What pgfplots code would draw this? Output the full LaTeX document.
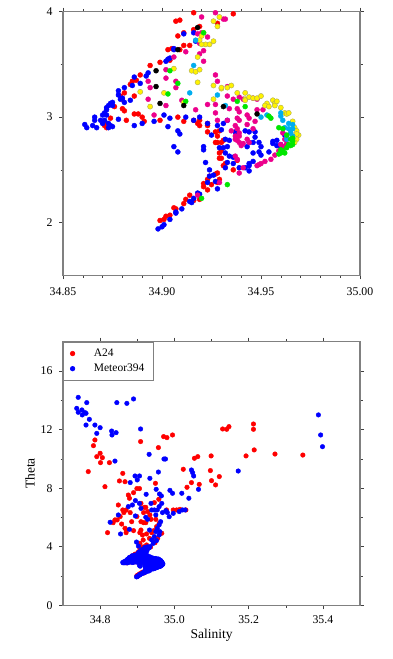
\documentclass[border=0pt]{standalone}
\usepackage{fontspec}
\setmainfont{Liberation Serif}
\usepackage{pgfplots}
\usepackage{pgfplotstable}
\pgfplotsset{compat=1.18}
\definecolor{gmtgreen}{RGB}{0,230,0}
\definecolor{yelline}{RGB}{170,170,90}

\pgfplotstableread{
S T
34.916 3.99
34.936 3.98
34.928 3.89
34.907 3.91
34.909 3.92
34.919 3.86
34.916 3.83
34.908 3.77
34.911 3.80
34.911 3.68
34.914 3.68
34.909 3.64
34.903 3.64
34.905 3.65
34.904 3.54
34.899 3.52
34.894 3.49
34.889 3.40
34.887 3.35
34.885 3.34
34.884 3.31
34.881 3.23
34.879 3.20
34.880 3.17
34.876 3.10
34.880 3.08
34.881 3.06
34.886 3.03
34.888 3.03
34.882 2.97
34.890 3.00
34.891 2.96
34.899 2.97
34.908 3.00
34.911 2.96
34.916 2.97
34.919 2.97
34.919 2.92
34.923 2.92
34.923 2.86
34.927 2.86
34.929 2.87
34.928 2.82
34.928 2.76
34.927 2.76
34.929 2.66
34.930 2.61
34.931 2.54
34.932 2.56
34.938 2.59
34.936 2.50
34.927 2.46
34.928 2.47
34.924 2.44
34.923 2.41
34.929 2.41
34.925 2.36
34.928 2.38
34.921 2.37
34.923 2.31
34.921 2.34
34.919 2.22
34.916 2.21
34.914 2.26
34.912 2.22
34.911 2.18
34.907 2.13
34.906 2.14
34.904 2.07
34.902 2.06
34.901 2.03
34.899 2.02
34.872 2.90
34.872 2.94
34.874 2.99
34.871 2.92
34.930 2.76
34.931 2.78
34.930 2.68
34.929 2.61
34.918 2.94
34.923 2.94
34.886 3.20
}\redtop

\pgfplotstableread{
S T
34.861 2.93
34.862 2.90
34.866 3.00
34.865 2.92
34.867 2.90
34.866 2.97
34.869 2.97
34.870 2.94
34.870 3.02
34.871 3.04
34.872 3.07
34.872 3.09
34.873 3.11
34.874 3.13
34.875 3.14
34.875 3.11
34.873 2.90
34.874 2.92
34.875 2.91
34.873 2.94
34.871 2.97
34.872 3.02
34.878 3.25
34.878 3.21
34.879 3.17
34.880 3.18
34.881 3.28
34.881 3.14
34.884 3.16
34.885 3.30
34.886 3.38
34.889 3.32
34.892 3.39
34.893 3.42
34.886 2.92
34.890 2.94
34.878 2.98
34.896 2.96
34.901 3.02
34.904 2.99
34.903 2.91
34.906 2.72
34.908 2.67
34.908 2.87
34.909 2.84
34.912 3.00
34.916 2.97
34.919 3.00
34.902 3.53
34.903 3.55
34.904 3.56
34.906 3.64
34.906 3.65
34.911 3.79
34.916 3.80
34.917 3.72
34.921 2.72
34.921 2.69
34.922 2.57
34.924 2.50
34.923 2.94
34.928 2.92
34.931 2.94
34.933 2.97
34.930 2.88
34.925 2.83
34.929 2.71
34.931 2.71
34.933 2.72
34.932 2.79
34.934 2.78
34.937 2.86
34.938 2.84
34.932 2.66
34.934 2.63
34.936 2.62
34.936 2.56
34.932 2.52
34.933 2.57
34.939 2.52
34.942 2.52
34.944 2.54
34.944 2.56
34.946 2.58
34.944 2.49
34.942 2.87
34.944 2.86
34.947 2.86
34.947 2.81
34.946 2.76
34.944 2.76
34.949 2.76
34.950 2.72
34.949 2.67
34.950 2.64
34.946 2.66
34.943 2.72
34.954 2.67
34.956 2.75
34.956 2.77
34.958 2.78
34.958 2.73
34.960 2.72
34.960 2.74
34.962 2.83
34.924 2.44
34.926 2.45
34.923 2.38
34.928 2.32
34.927 2.39
34.918 2.28
34.919 2.27
34.916 2.23
34.914 2.20
34.915 2.19
34.910 2.13
34.907 2.10
34.907 2.09
34.904 2.03
34.901 1.98
34.900 1.96
34.898 1.94
}\bluetop

\pgfplotstableread{
S T
34.920 3.95
34.927 3.99
34.931 3.93
34.932 3.93
34.918 3.79
34.920 3.80
34.923 3.76
34.919 3.70
34.921 3.63
34.919 3.60
34.921 3.53
34.912 3.62
34.906 3.57
34.902 3.45
34.902 3.37
34.893 3.34
34.894 3.28
34.907 3.34
34.907 3.28
34.893 3.17
34.896 3.02
34.902 3.11
34.910 3.16
34.917 3.07
34.923 3.12
34.927 3.12
34.927 3.40
34.928 3.34
34.927 3.04
34.934 3.08
34.938 3.08
34.938 2.99
34.939 3.05
34.928 2.97
34.933 2.97
34.937 2.92
34.938 2.89
34.943 3.02
34.944 2.99
34.939 2.97
34.943 2.93
34.947 2.96
34.948 3.07
34.951 3.07
34.946 3.18
34.948 3.17
34.939 3.19
34.941 3.17
34.933 3.20
34.933 3.29
34.936 3.17
34.937 2.82
34.937 2.79
34.938 2.78
34.939 2.76
34.939 2.82
34.940 2.73
34.941 2.75
34.943 2.79
34.939 2.47
34.941 2.52
34.948 2.54
34.949 2.55
34.950 2.56
34.952 2.58
34.955 2.60
34.957 2.64
34.959 2.68
34.961 2.69
34.962 2.72
34.963 2.75
34.960 2.74
34.962 2.79
34.961 2.85
34.944 2.76
34.946 2.89
34.935 2.87
34.939 2.85
34.937 2.63
34.938 2.60
34.918 2.26
34.929 2.38
}\magtop

\pgfplotstableread{
S T
34.929 3.95
34.926 3.91
34.928 3.86
34.921 3.80
34.920 3.77
34.919 3.73
34.922 3.69
34.920 3.69
34.924 3.69
34.926 3.72
34.918 3.57
34.915 3.44
34.917 3.43
34.919 3.45
34.918 3.33
34.926 3.30
34.930 3.27
34.930 3.28
34.933 3.28
34.935 3.30
34.926 3.17
34.938 3.23
34.942 3.23
34.942 3.17
34.944 3.19
34.942 3.16
34.946 3.18
34.948 3.18
34.950 3.20
34.953 3.13
34.952 3.11
34.956 3.16
34.957 3.13
34.957 3.11
34.958 3.15
34.960 3.09
34.962 3.04
34.963 3.03
34.964 3.04
34.966 2.96
34.967 2.90
34.968 2.87
34.969 2.83
34.968 2.79
34.967 2.76
34.966 2.79
34.968 2.84
34.965 2.85
34.954 3.10
34.889 3.24
34.894 3.10
34.901 3.23
34.906 3.46
34.911 3.14
}\yeltop

\pgfplotstableread{
S T
34.917 3.73
34.916 3.49
34.914 3.23
34.928 3.21
34.932 3.11
34.950 3.00
34.953 3.02
34.960 3.01
34.960 3.04
34.961 2.97
34.964 2.94
34.966 2.93
34.966 2.89
34.965 2.85
34.963 2.82
34.966 2.82
34.962 2.90
34.964 2.89
34.963 2.79
}\cyantop

\pgfplotstableread{
S T
34.921 3.80
34.904 3.44
34.908 3.32
34.903 3.22
34.912 3.15
34.938 3.15
34.942 3.10
34.954 3.01
34.955 2.99
34.959 2.90
34.961 2.89
34.963 2.83
34.965 2.79
34.966 2.77
34.964 2.74
34.963 2.71
34.961 2.68
34.960 2.66
34.959 2.65
34.960 2.69
34.966 2.74
34.966 2.80
34.965 2.73
34.962 2.66
34.933 2.36
34.920 2.23
}\greentop

\pgfplotstableread{
S T
34.918 3.85
34.908 3.64
34.897 3.44
34.897 3.29
34.899 3.13
34.911 3.11
34.931 3.10
34.948 3.03
}\blacktop

\pgfplotstableread{
S T
34.782 10.90
34.786 11.29
34.791 10.15
34.800 10.38
34.801 9.74
34.806 10.08
34.768 9.13
34.813 8.10
34.825 9.74
34.820 4.96
34.835 5.64
34.840 5.83
34.849 6.85
34.852 8.49
34.861 9.01
34.867 8.44
34.876 7.53
34.879 7.31
34.890 7.69
34.899 7.97
34.906 7.97
34.909 11.18
34.910 6.96
34.919 6.69
34.923 6.69
34.917 6.33
34.928 6.40
34.934 6.17
34.946 7.01
34.949 8.33
34.958 7.24
34.957 10.77
34.971 11.52
34.980 11.45
34.995 11.63
35.024 9.29
35.034 8.06
35.046 8.38
35.054 10.04
35.063 10.15
35.067 8.26
35.097 9.20
35.099 10.20
35.100 8.51
35.111 8.22
35.121 8.79
35.130 12.04
35.141 12.02
35.147 12.20
35.193 10.20
35.213 12.38
35.213 12.02
35.215 10.61
35.271 10.33
35.346 10.26
34.846 5.83
34.861 6.51
34.864 6.33
34.870 6.51
34.881 6.33
34.858 5.55
34.867 5.26
34.871 5.14
34.870 4.96
34.890 5.10
34.910 5.71
34.917 5.64
34.923 5.64
34.937 5.87
34.950 5.87
34.979 6.51
34.997 6.51
35.006 6.51
35.015 6.55
35.031 6.51
34.899 6.06
34.910 5.14
34.885 5.71
34.854 6.06
34.907 4.96
34.914 4.80
34.925 4.87
34.939 4.96
34.945 5.10
34.952 5.37
34.959 5.60
34.966 4.92
34.933 4.57
34.916 4.46
34.942 4.42
34.955 4.57
34.948 4.28
34.907 4.23
34.925 4.12
}\redlow

\pgfplotstableread{
S T
34.741 14.20
34.737 13.45
34.741 13.18
34.751 13.34
34.752 13.00
34.759 13.16
34.762 13.11
34.764 13.84
34.771 12.70
34.762 12.31
34.786 12.31
34.791 11.74
34.800 12.13
34.831 11.90
34.832 11.63
34.843 11.79
34.845 13.84
34.872 13.79
34.890 14.09
34.909 12.04
34.932 10.31
34.972 9.99
34.976 9.99
34.957 9.10
34.934 8.67
34.894 8.83
34.906 8.83
34.900 8.56
34.881 8.38
34.840 9.85
34.924 7.58
34.951 7.92
34.960 7.60
34.965 7.47
34.988 7.85
34.995 7.65
35.020 7.65
35.039 7.31
35.046 9.24
35.049 9.06
35.052 8.83
35.065 7.92
35.172 9.17
35.388 13.00
35.394 11.63
35.399 10.83
34.849 6.17
34.827 5.67
34.855 4.87
34.879 5.19
34.876 6.74
34.887 6.85
34.895 7.15
34.895 6.10
34.906 6.96
34.910 6.62
34.923 6.01
34.928 5.87
34.937 6.96
34.939 6.51
34.946 6.51
34.954 6.51
34.959 6.74
34.966 6.96
34.968 6.33
34.977 6.46
34.981 6.33
34.986 6.05
34.950 6.17
34.963 5.71
34.959 5.49
34.954 5.26
34.950 5.03
34.961 5.03
34.933 5.14
34.898 4.32
34.903 4.05
35.013 6.40
35.022 6.51
35.029 6.51
34.997 6.28
34.943 4.23
34.952 4.42
34.934 4.01
34.959 4.80
34.946 4.69
34.925 3.82
34.916 3.66
34.907 3.50
34.939 4.46
}\bluelow

\pgfplotsset{
  gmt/.style={
    scale only axis,
    width=297pt, height=263.6pt,
    axis line style={draw=black!50, line width=1.5pt},
    tick style={black!75, line width=0.5pt},
    tick align=outside,
    major tick length=4pt,
    minor tick length=2.5pt,
    tick label style={font=\fontsize{11.8}{13}\selectfont, black},
    label style={font=\fontsize{13.5}{15}\selectfont},
    /pgf/number format/assume math mode=true,
    /pgf/number format/1000 sep={},
    clip=true,
  },
  dot/.style={only marks, mark=*, mark size=#1, mark options={draw=none}},
}

\begin{document}
\begin{tikzpicture}[x=1pt,y=1pt]
\path[use as bounding box] (0,0) rectangle (393,659);

\begin{axis}[gmt,
  at={(63pt,383.7pt)}, anchor=south west,
  xmin=34.85, xmax=35.00, ymin=1.5, ymax=4,
  xtick={34.85,34.90,34.95,35.00}, minor x tick num=4,
  ytick={2,3,4}, minor y tick num=1,
  xticklabel style={yshift=-5pt, /pgf/number format/.cd, fixed, fixed zerofill, precision=2},
  yticklabel style={xshift=-3pt, /pgf/number format/.cd, fixed, precision=0},
]
\addplot[dot=2.5pt, red] table[x=S,y=T] {\redtop};
\addplot[dot=2.5pt, blue] table[x=S,y=T] {\bluetop};
\addplot[dot=2.5pt, magenta] table[x=S,y=T] {\magtop};
\addplot[only marks, mark=*, mark size=2.6pt, mark options={fill=yellow, draw=yelline, line width=0.4pt}] table[x=S,y=T] {\yeltop};
\addplot[dot=2.5pt, cyan] table[x=S,y=T] {\cyantop};
\addplot[dot=2.5pt, gmtgreen] table[x=S,y=T] {\greentop};
\addplot[dot=2.5pt, black] table[x=S,y=T] {\blacktop};
\end{axis}

\begin{axis}[gmt,
  at={(63pt,53.7pt)}, anchor=south west,
  xmin=34.7, xmax=35.5, ymin=0, ymax=18,
  xtick={34.8,35.0,35.2,35.4}, minor x tick num=1,
  ytick={0,4,8,12,16}, minor y tick num=1,
  xticklabel style={yshift=-3pt, /pgf/number format/.cd, fixed, fixed zerofill, precision=1},
  yticklabel style={xshift=-3pt, /pgf/number format/.cd, fixed, precision=0},
  xlabel={Salinity}, ylabel={Theta},
  xlabel style={at={(axis description cs:0.5,-0.1127)}, anchor=center},
  ylabel style={at={(axis description cs:-0.111,0.5)}, anchor=center},
  legend style={at={(0,1)}, anchor=north west, draw=black!50, line width=0.6pt,
    font=\fontsize{11.5}{13}\selectfont, inner xsep=7pt, inner ysep=5pt,
    row sep=2pt, legend cell align=left,
    /tikz/every odd column/.append style={column sep=3pt}},
  legend image code/.code={\node[draw=none, fill=none, inner sep=0pt, minimum width=16pt, minimum height=6pt] at (8pt,0pt) {}; \draw[#1] plot coordinates {(8pt,0pt)};},
]
\addplot[dot=2.3pt, red] table[x=S,y=T] {\redtop};
\addlegendentry{A24}
\addplot[dot=2.3pt, blue] table[x=S,y=T] {\bluetop};
\addlegendentry{Meteor394}
\addplot[dot=2.3pt, red, forget plot] table[x=S,y=T] {\redlow};
\addplot[dot=2.3pt, blue, forget plot] table[x=S,y=T] {\magtop};
\addplot[dot=2.3pt, blue, forget plot] table[x=S,y=T] {\yeltop};
\addplot[dot=2.3pt, blue, forget plot] table[x=S,y=T] {\cyantop};
\addplot[dot=2.3pt, blue, forget plot] table[x=S,y=T] {\greentop};
\addplot[dot=2.3pt, blue, forget plot] table[x=S,y=T] {\blacktop};
\addplot[dot=2.3pt, blue, forget plot] table[x=S,y=T] {\bluelow};
\end{axis}
\end{tikzpicture}
\end{document}
